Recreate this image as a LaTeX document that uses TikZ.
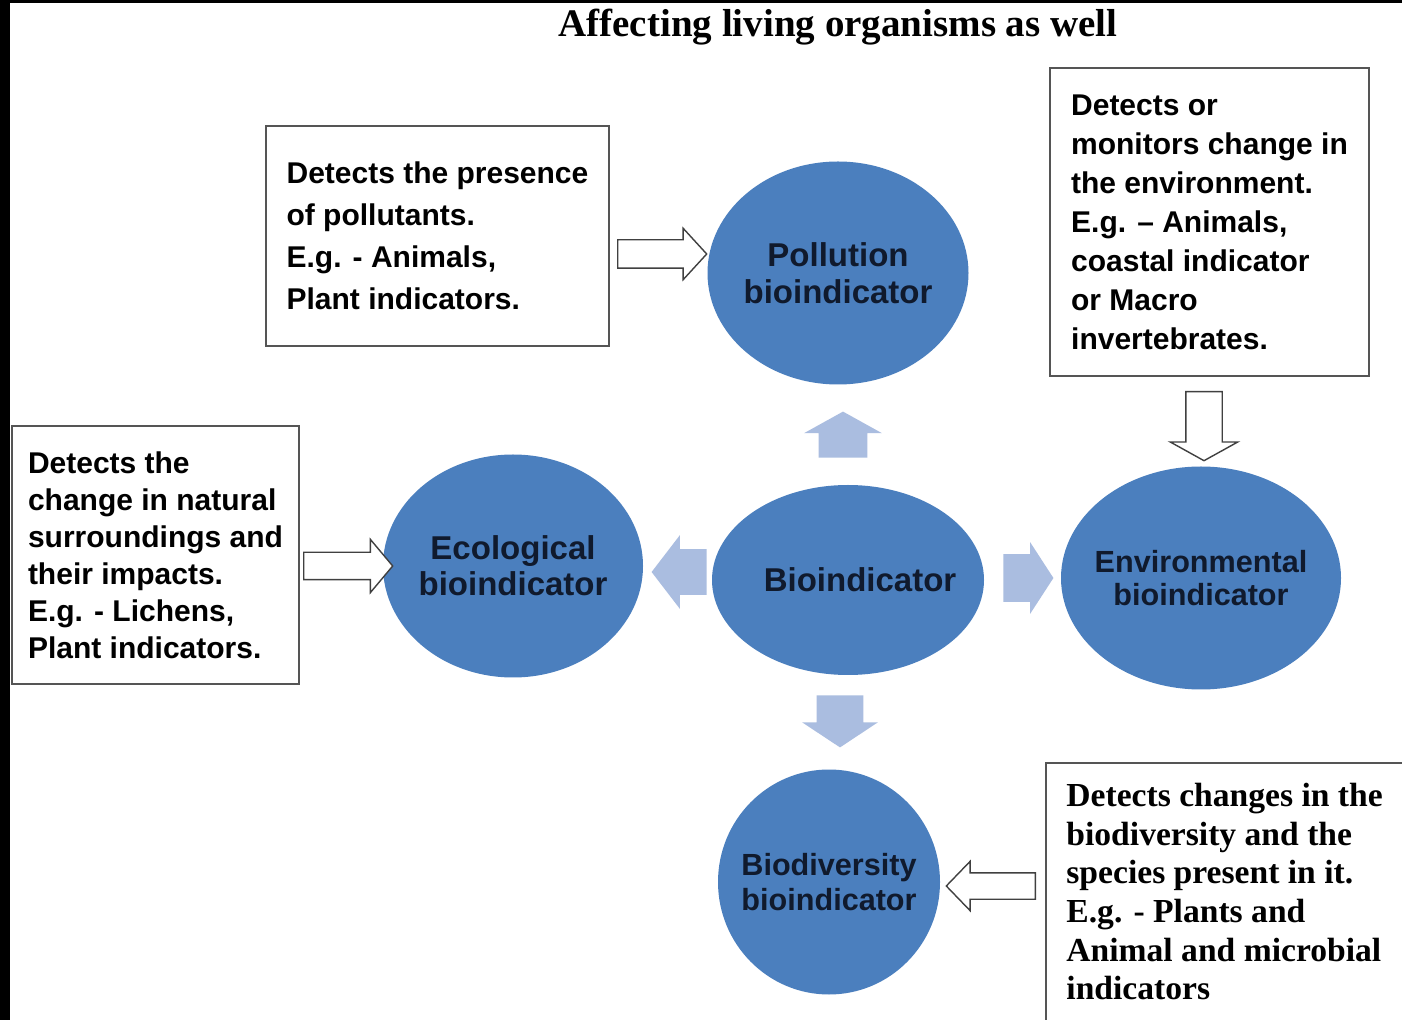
\documentclass[tikz,border=0pt]{standalone}
\usepackage{fontspec}
\setmainfont{Liberation Serif}
\setsansfont{Liberation Sans}
\usepackage{tikz}
\usetikzlibrary{arrows,shapes}
\definecolor{ovalblue}{RGB}{75,127,190}
\definecolor{ovaltext}{RGB}{16,26,45}
\definecolor{palearrow}{RGB}{170,189,224}
\definecolor{boxline}{RGB}{85,85,85}

\begin{document}
\begin{tikzpicture}[x=0.5pt, y=-0.5pt]
		\tikzstyle{info_box} = [rectangle, draw=boxline, line width=0.9pt, align=left,
		inner sep=0pt, font=\sffamily\bfseries]
		\tikzstyle{blue_oval} = [ellipse, fill=ovalblue, text=ovaltext, align=center,
		inner xsep=-12pt, inner ysep=0pt, font=\sffamily\bfseries]
		\tikzstyle{hollow_arrow} = [single arrow, draw=black!75, fill=white,
		line width=0.7pt, anchor=tail]
		\tikzstyle{pale_arrow} = [single arrow, fill=palearrow, anchor=tail]
		\clip (0,0) rectangle (1402,1020);
		\fill[white] (0,0) rectangle (1402,1020);
		\fill[black] (0,0) rectangle (10,1020);
		\fill[black] (0,0) rectangle (1402,3);
		\node[font=\bfseries\fontsize{19.5}{22}\selectfont, anchor=base] (title) at (838,37)
		{Affecting living organisms as well};
		% the five indicators
		\node[blue_oval, minimum width=130.5pt, minimum height=111.5pt,
		font=\sffamily\bfseries\fontsize{16.5}{18.5}\selectfont] (pollution) at (838,273)
		{Pollution\\bioindicator};
		\node[blue_oval, minimum width=130pt, minimum height=111.5pt,
		font=\sffamily\bfseries\fontsize{16.5}{18}\selectfont] (ecological) at (513,566)
		{Ecological\\bioindicator};
		\node[blue_oval, minimum width=136pt, minimum height=95pt,
		font=\sffamily\bfseries\fontsize{16.5}{18.5}\selectfont] (bioindicator) at (848,580)
		{\hspace*{12pt}Bioindicator};
		\node[blue_oval, minimum width=140pt, minimum height=111.5pt,
		font=\sffamily\bfseries\fontsize{15.3}{16.5}\selectfont] (environmental) at (1201,578)
		{Environmental\\bioindicator};
		\node[blue_oval, minimum width=111pt, minimum height=112.5pt,
		font=\sffamily\bfseries\fontsize{15.3}{17.5}\selectfont] (biodiversity) at (829,882)
		{Biodiversity\\bioindicator};
		% text boxes
		\node[info_box, minimum width=171.5pt, minimum height=110pt,
		font=\sffamily\bfseries\fontsize{15}{21}\selectfont] (pollution_box) at (437.5,236)
		{Detects the presence\\of pollutants.\\E.g. - Animals,\\Plant indicators.};
		\node[info_box, minimum width=143.5pt, minimum height=129pt,
		font=\sffamily\bfseries\fontsize{15}{18.5}\selectfont] (ecological_box) at (155.5,555)
		{Detects the\\change in natural\\surroundings and\\their impacts.\\E.g. - Lichens,\\Plant indicators.};
		\node[info_box, minimum width=159.5pt, minimum height=154pt,
		font=\sffamily\bfseries\fontsize{15}{19.5}\selectfont] (environmental_box) at (1209.5,222)
		{Detects or\\monitors change in\\the environment.\\E.g. -- Animals,\\coastal indicator\\or Macro\\invertebrates.};
		\node[info_box, anchor=north west, minimum width=250pt, minimum height=200pt]
		(biodiversity_box) at (1045,762) {};
		\node[anchor=north west, align=left, inner xsep=10.5pt, inner ysep=10.5pt,
		font=\bfseries\fontsize{16.8}{19.3}\selectfont] (biodiversity_text)
		at (biodiversity_box.north west)
		{Detects changes in the\\biodiversity and the\\species present in it.\\E.g. - Plants and\\Animal and microbial\\indicators};
		% hollow arrows from the boxes
		\node[hollow_arrow, inner xsep=0pt, inner ysep=6.75pt, minimum height=44.5pt,
		single arrow head extend=5.75pt, single arrow tip angle=95] (to_pollution) at (617,254) {};
		\node[hollow_arrow, inner xsep=0pt, inner ysep=6.5pt, minimum height=44.5pt,
		single arrow head extend=6.5pt, single arrow tip angle=100] (to_ecological) at (303,566) {};
		\node[hollow_arrow, inner ysep=0pt, inner xsep=8.75pt, minimum height=34.5pt, shape border rotate=270,
		single arrow head extend=7.75pt, single arrow tip angle=122] (to_environmental) at (1204,391) {};
		\node[hollow_arrow, inner xsep=0pt, inner ysep=6.25pt, minimum height=44.5pt, shape border rotate=180,
		single arrow head extend=5.75pt, single arrow tip angle=92] (to_biodiversity) at (1036,886) {};
		% pale arrows out of the centre
		\node[pale_arrow, inner ysep=0pt, inner xsep=12pt, minimum height=23pt, shape border rotate=90,
		single arrow head extend=7.25pt, single arrow tip angle=122] (up_arrow) at (843,458) {};
		\node[pale_arrow, inner xsep=0pt, inner ysep=11.25pt, minimum height=27.5pt, shape border rotate=180,
		single arrow head extend=7pt, single arrow tip angle=105] (left_arrow) at (707,572) {};
		\node[pale_arrow, inner xsep=0pt, inner ysep=11.75pt, minimum height=25pt,
		single arrow head extend=6pt, single arrow tip angle=114] (right_arrow) at (1003,578) {};
		\node[pale_arrow, inner ysep=0pt, inner xsep=11.5pt, minimum height=26pt, shape border rotate=270,
		single arrow head extend=7.25pt, single arrow tip angle=113] (down_arrow) at (840,695) {};
	\end{tikzpicture}
\end{document}
